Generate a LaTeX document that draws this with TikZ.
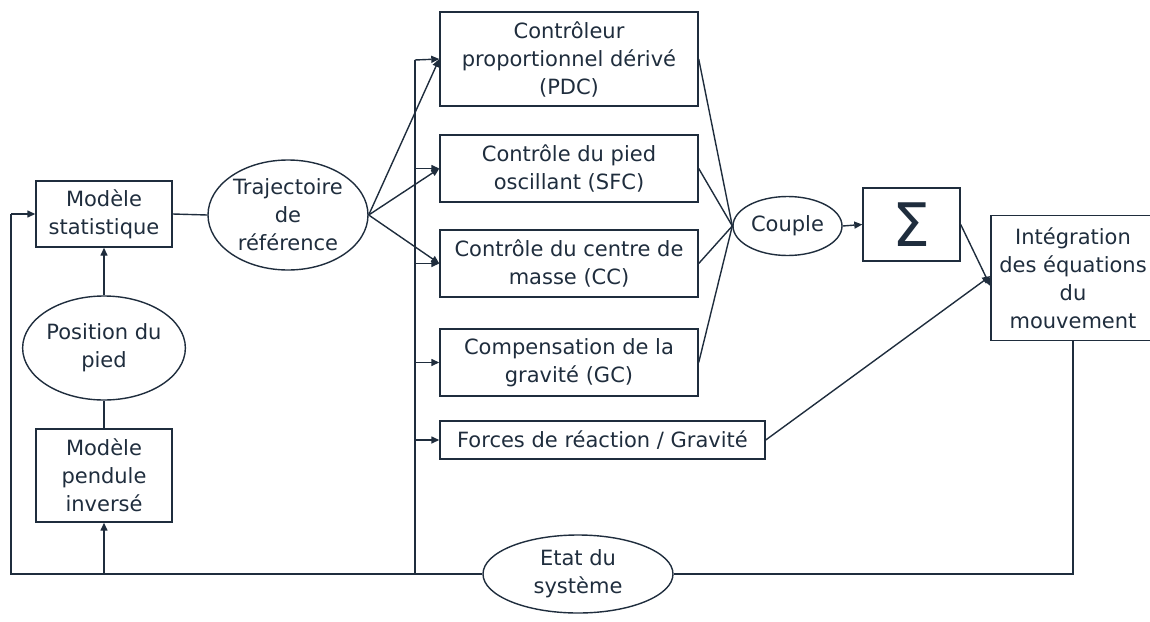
\documentclass[tikz,border=0pt]{standalone}
\usepackage{fontspec}
\setmainfont{DejaVu Sans}
\usetikzlibrary{shapes.geometric,arrows.meta}
\definecolor{ink}{RGB}{31,45,61}
\begin{document}
\begin{tikzpicture}[x=1pt,y=-1pt,
  every node/.style={text=ink, font=\fontsize{21}{28}\selectfont, align=center, inner sep=0pt},
  box/.style={draw=ink, line width=1.4pt, rectangle},
  oval/.style={draw=ink, line width=1.4pt, ellipse},
  conn/.style={draw=ink, line width=1.4pt},
  arr/.style={conn, -{Triangle[length=8pt,width=7pt]}}]
\useasboundingbox (0,0) rectangle (1150,621);
% nodes
\node[box, minimum width=136pt, minimum height=66pt] (ms) at (104,214) {Modèle\\statistique};
\node[oval, minimum width=160pt, minimum height=110pt] (traj) at (288,215) {Trajectoire\\de\\référence};
\node[oval, minimum width=160pt, minimum height=104pt] (pos) at (104,348) {Position du\\pied};
\node[box, minimum width=136pt, minimum height=93pt] (pend) at (104,475.5) {Modèle\\pendule\\inversé};
\node[box, minimum width=258pt, minimum height=94pt] (pdc) at (569,59) {Contrôleur\\proportionnel dérivé\\(PDC)};
\node[box, minimum width=258pt, minimum height=67pt] (sfc) at (569,168.5) {Contrôle du pied\\oscillant (SFC)};
\node[box, minimum width=258pt, minimum height=67pt] (cc) at (569,263.5) {Contrôle du centre de\\masse (CC)};
\node[box, minimum width=258pt, minimum height=67pt] (gc) at (569,362.5) {Compensation de la\\gravité (GC)};
\node[box, minimum width=325pt, minimum height=38pt] (frc) at (602.5,440) {Forces de réaction / Gravité};
\node[oval, minimum width=109pt, minimum height=59pt] (couple) at (787.5,226) {Couple};
\node[box, minimum width=97pt, minimum height=73pt] (sig) at (911.5,224.5) {\fontsize{60}{60}\selectfont Σ};
\node[box, minimum width=164pt, minimum height=125pt] (integ) at (1073,278) {Intégration\\des équations\\du\\mouvement};
\node[oval, minimum width=190pt, minimum height=78pt] (etat) at (578,574) {Etat du\\système};
% helper coordinates
\coordinate (bl) at (11,574);
\coordinate (tl) at (11,214);
\coordinate (bb) at (415,574);
\coordinate (bt) at (415,60);
% left loop
\draw[conn] (etat.west) -- (bl) -- (tl);
\draw[arr] (tl) -- (ms.west);
\draw[arr] (pend.south |- bl) -- (pend.south);
\draw[conn] (pend.north) -- (pos.south);
\draw[arr] (pos.north) -- (ms.south);
\draw[conn] (ms.east) -- (traj.west);
% bus
\draw[conn] (bb) -- (bt);
\draw[arr] (bt) -- (pdc.west);
\draw[arr] (bb |- sfc.west) -- (sfc.west);
\draw[arr] (bb |- cc.west) -- (cc.west);
\draw[arr] (bb |- gc.west) -- (gc.west);
\draw[arr] (bb |- frc.west) -- (frc.west);
% trajectoire fan
\draw[arr] (traj.east) -- (pdc.west);
\draw[arr] (traj.east) -- (sfc.west);
\draw[arr] (traj.east) -- (cc.west);
% into couple
\draw[conn] (pdc.east) -- (couple.west);
\draw[conn] (sfc.east) -- (couple.west);
\draw[conn] (cc.east) -- (couple.west);
\draw[conn] (gc.east) -- (couple.west);
\draw[arr] (couple.east) -- (sig.west);
\draw[arr] (sig.east) -- ([yshift=-8pt]integ.west);
\draw[arr] (frc.east) -- ([yshift=2pt]integ.west);
% right loop
\draw[conn] (integ.south) -- (integ.south |- etat.east) -- (etat.east);
\end{tikzpicture}
\end{document}
